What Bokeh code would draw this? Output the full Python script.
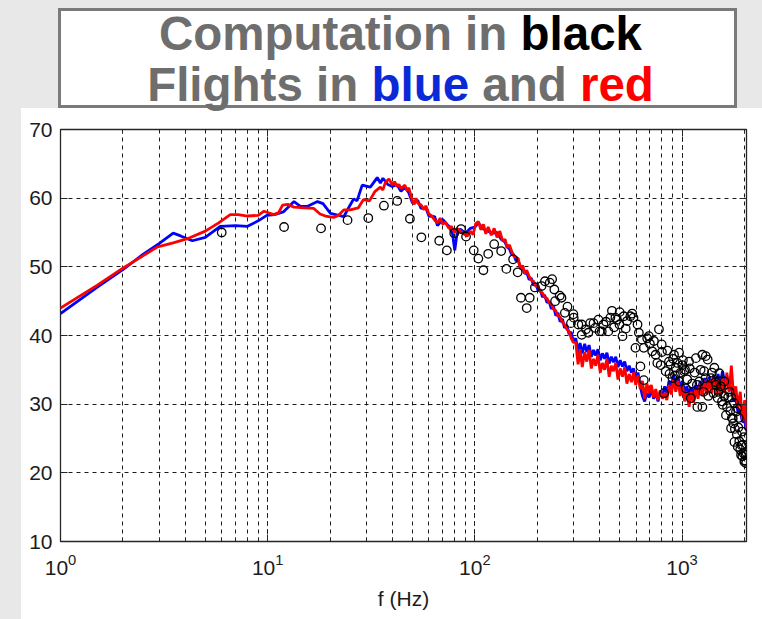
from bokeh.plotting import figure
from bokeh.models import (Range1d, LogAxis, LinearAxis, SingleIntervalTicker, LogTicker,
                          CustomJSTickFormatter, Div)
from bokeh.layouts import column, row
from bokeh.embed import file_html
from bokeh.resources import INLINE

# ---------------- data ----------------
red_f = [1, 1.5, 2, 2.5, 2.94, 3.5, 4.1, 5, 5.8, 6.6, 7.2, 8, 9, 9.6, 10.7, 11.3, 11.8, 12.5, 13.4, 15,
         16.7, 17.9, 19, 20.8, 22, 23.3, 25, 27.4, 29, 31, 33, 35, 36, 37, 38.5, 40, 41, 42, 43, 44,
         46, 47, 48, 50, 51, 52, 53, 55, 57, 58, 60, 62, 64, 66, 68, 70, 72, 75, 77, 80,
         82, 85, 88, 92, 95, 98, 101, 104, 107, 110, 113, 116, 120, 124, 128, 132, 136,
         140, 143, 147, 150, 154, 158, 162, 166, 170, 174, 178, 183, 187, 192, 197, 202, 207, 212, 217, 223,
         228, 234, 240, 246, 252, 258, 265, 271, 278, 285, 292, 299, 307, 315, 322, 330, 339, 347, 356, 365,
         374, 383, 393, 403, 413, 423, 434, 445, 456, 467, 479, 491, 503, 516, 529, 542, 556, 570, 584, 598,
         613, 629, 644, 660, 677, 694, 711, 729, 747, 766, 785, 805, 825, 845, 866, 888, 910, 933, 957, 981,
         1005, 1030, 1056, 1082, 1109, 1137, 1166, 1195, 1225, 1255, 1287, 1319, 1352, 1386, 1420, 1456,
         1492, 1530, 1568, 1607, 1647, 1689, 1731, 1774, 1818, 1864, 1910, 1958, 2007, 2048]
red_v = [44.0, 47.3, 49.8, 51.6, 52.9, 53.5, 54.1, 55.2, 56.4, 57.6, 57.6, 57.4, 57.5, 58.1, 57.6, 57.9, 59.0, 59.1, 58.7, 58.6,
         58.5, 57.7, 57.4, 57.2, 57.5, 58.3, 58.3, 58.6, 59.8, 59.6, 61.0, 61.6, 61.2, 62.3, 62.8, 61.9, 62.4, 61.7, 62.0, 61.4,
         61.9, 61.1, 61.5, 59.6, 59.1, 60.0, 59.3, 59.0, 58.3, 58.9, 57.7, 57.4, 56.8, 56.4, 57.1, 56.2, 56.5, 55.6, 55.9, 55.0,
         55.6, 55.3, 54.8, 54.5, 55.2, 54.7, 56.3, 56.6, 55.4, 56.2, 54.8, 55.8, 54.6, 55.6, 54.3, 55.2, 53.8,
         54.0, 52.8, 53.2, 52.4, 51.6, 51.4, 51.2, 49.7, 50.2, 49.0, 49.5, 48.6, 48.1, 47.9, 47.2, 47.1, 46.4, 46.2, 45.6, 45.4,
         44.8, 44.6, 43.8, 43.6, 42.8, 42.7, 41.9, 41.6, 40.9, 40.6, 39.6, 39.0, 39.0, 35.8, 38.0, 35.4, 37.6, 36.2, 37.9, 35.2,
         36.6, 35.6, 37.2, 34.6, 36.0, 35.0, 36.6, 34.0, 35.6, 34.8, 36.0, 33.6, 35.2, 34.0, 35.4, 33.0, 34.4, 33.2, 34.6, 32.8,
         34.2, 32.2, 33.4, 30.8, 33.0, 31.6, 32.8, 31.0, 32.2, 30.6, 32.0, 30.8, 31.6, 30.6, 32.8, 31.4, 33.6, 31.8, 33.4, 31.2,
         32.8, 30.4, 31.8, 29.6, 31.8, 30.2, 32.2, 30.8, 33.0, 31.2, 33.4, 31.4, 33.6, 31.6, 33.8, 31.4,
         33.6, 31.2, 34.0, 31.6, 34.6, 31.8, 35.6, 31.0, 32.6, 29.4, 31.8, 27.6, 30.6, 26.4]

blue_f = [1, 1.5, 2, 2.5, 3, 3.5, 3.8, 4.33, 5, 5.9, 7, 8, 9, 9.9, 10.8, 11.9, 13.4, 14.4, 15.5, 17.4,
          18.5, 20.1, 23.3, 24.6, 26, 27, 28.6, 31.3, 33.8, 35, 36, 38, 40, 42, 44, 46, 48, 50, 53, 55,
          58, 60, 64, 66, 70, 75, 78, 80, 82, 85, 90, 95, 100, 104, 110, 116, 122, 128, 134,
          140, 143, 147, 150, 154, 158, 162, 166, 170, 174, 178, 183, 187, 192, 197, 202, 207, 212, 217, 223,
          228, 234, 240, 246, 252, 258, 265, 271, 278, 285, 292, 299, 307, 315, 322, 330, 339, 347, 356, 365,
          374, 383, 393, 403, 413, 423, 434, 445, 456, 467, 479, 491, 503, 516, 529, 542, 556, 570, 584, 598,
          613, 629, 644, 660, 677, 694, 711, 729, 747, 766, 785, 805, 825, 845, 866, 888, 910, 933, 957, 981,
          1005, 1030, 1056, 1082, 1109, 1137, 1166, 1195, 1225, 1255, 1287, 1319, 1352, 1386, 1420, 1456,
          1492, 1530, 1568, 1607, 1647, 1689, 1731, 1774, 1818, 1864, 1910, 1958, 2007, 2048]
blue_v = [43.2, 47.0, 49.6, 51.8, 53.4, 54.9, 54.5, 53.8, 54.3, 55.9, 56.0, 55.9, 56.7, 57.5, 57.6, 58.0, 59.5, 58.8, 58.8, 59.5,
          59.2, 57.8, 57.3, 58.6, 59.9, 59.6, 61.9, 61.6, 63.0, 62.2, 62.9, 62.0, 61.7, 62.0, 61.0, 61.6, 60.8, 59.3, 59.7, 58.5,
          58.6, 57.4, 57.3, 56.0, 56.9, 55.9, 54.8, 52.4, 54.8, 55.5, 54.9, 55.6, 55.8, 56.4, 55.5, 55.2, 54.9, 55.0, 54.0,
          53.6, 52.9, 52.6, 51.9, 51.8, 50.9, 50.9, 49.9, 50.0, 49.0, 49.2, 48.1, 48.4, 47.3, 47.6, 46.5, 46.7, 45.6, 45.9, 44.8,
          45.0, 43.9, 44.2, 42.9, 43.3, 42.0, 42.4, 41.1, 41.5, 40.2, 40.5, 39.0, 39.6, 37.6, 38.9, 37.4, 38.8, 37.6, 38.6, 36.9,
          37.9, 37.1, 38.0, 36.4, 37.4, 36.6, 37.5, 35.9, 36.9, 36.1, 36.9, 35.4, 36.4, 35.5, 36.2, 34.8, 35.6, 34.6, 35.2, 33.6,
          34.6, 32.6, 31.2, 30.4, 31.6, 31.0, 32.2, 30.8, 31.6, 30.4, 31.8, 31.2, 32.6, 31.6, 33.4, 32.6, 34.2, 33.0, 34.0, 32.4,
          33.4, 31.8, 32.6, 31.0, 32.4, 31.4, 32.8, 31.8, 33.4, 32.2, 33.8, 32.4, 34.0, 32.6, 34.2, 32.6,
          34.4, 33.0, 34.8, 33.2, 34.0, 32.0, 32.6, 30.4, 30.8, 28.8, 29.0, 27.4, 27.6, 26.2]

comp_f = [6.0, 12.0, 18.1, 24.3, 30.6, 36.4, 42.2, 48.6, 55.2, 67.3, 73.3, 79.5, 85.8, 90.7, 98.8, 104, 110, 116,
          124, 134, 142, 153, 161, 167, 178, 184, 195, 218, 230, 242, 262, 244, 272, 299, 291, 316, 328, 353,
          374, 395, 418, 441, 459, 477, 499, 516, 543, 563, 583, 619, 654, 596, 692, 732, 774, 798, 630, 654,
          819, 865, 915, 968, 933, 1004, 968, 1043, 1103, 1186, 1254, 1211, 1303, 1330, 1279, 1379, 1460, 1486,
          1572, 1630, 1725, 1790, 1858, 1928, 2000, 2037, 1965, 1758, 1823, 1694, 1602, 1514, 1433, 1254, 1167,
          1082, 1024, 899, 834, 789, 746, 718, 679, 524, 486, 451, 410, 381, 344, 328,
          880, 905, 925, 950, 985, 1010, 1035, 1060, 1090, 1120, 1150, 1180, 1230, 1270, 1300, 1340, 1395,
          1420, 1450, 1500, 1540, 1560, 1600, 1650, 1670, 1710, 1740, 1770, 1800, 1840, 1870, 1890, 1910,
          1940, 1955, 1985, 2010, 2025, 2040, 1990, 1950, 1880, 1850, 1780, 1730, 760, 800, 850, 870, 700,
          640, 610, 575, 535, 500, 470, 430, 400, 360, 300, 280, 257, 236, 210]
comp_v = [55.0, 55.8, 55.6, 56.8, 57.1, 58.9, 59.6, 57.0, 54.3, 53.8, 52.4, 54.9, 55.5, 54.4, 52.4, 51.2, 49.5, 51.9,
          53.3, 52.3, 49.7, 51.1, 49.2, 45.5, 44.0, 45.5, 47.0, 47.9, 47.7, 46.7, 45.5, 45.0, 43.3, 43.1, 41.8, 41.6, 40.1, 40.4,
          41.8, 42.3, 41.6, 40.6, 43.6, 42.6, 41.6, 39.9, 42.1, 42.8, 42.6, 40.4, 38.2, 38.2, 39.9, 39.2, 40.9, 38.7, 35.5, 33.5,
          31.6, 36.2, 37.2, 37.5, 35.3, 35.7, 33.3, 32.3, 30.9, 29.6, 29.6, 33.3, 37.0, 36.5, 34.8, 33.8, 32.8, 30.9,
          29.9, 28.4, 26.5, 24.5, 23.8, 22.6, 21.6, 23.0, 24.1, 27.9, 28.9, 31.8, 33.3, 34.5, 35.3, 37.2, 36.7,
          36.2, 34.8, 33.8, 34.8, 35.7, 37.2, 37.7, 39.6, 42.8, 42.3, 42.6, 40.6, 41.1, 40.9, 41.6,
          35.8, 36.6, 34.2, 36.0, 34.6, 36.4, 35.0, 33.6, 35.2, 33.0, 34.6, 32.8, 35.0, 31.8, 33.8, 31.2, 34.6,
          31.6, 33.2, 31.8, 32.6, 30.4, 31.2, 29.6, 31.0, 29.0, 28.0, 27.2, 26.4, 25.6, 26.6, 24.6, 23.4,
          24.0, 22.4, 22.8, 21.8, 22.6, 21.4, 25.2, 26.0, 28.0, 29.4, 30.2, 31.0, 36.0, 37.6, 37.8, 34.4, 38.8,
          39.4, 41.6, 43.2, 41.0, 43.4, 41.2, 42.0, 40.6, 41.8, 42.6, 44.2, 45.8, 48.2, 47.2]

x_limits = (1, 2048)
y_limits = (10, 70)
x_label = "f (Hz)"
title_lines = [
    [("Computation in ", "#6e6e6e"), ("black", "#000000")],
    [("Flights in ", "#6e6e6e"), ("blue", "#0a2ad8"), (" and ", "#6e6e6e"), ("red", "#ff0000")],
]

FONT = "Liberation Sans"
GREY = "#e8e8e8"
TICK_PX = "21px"

# ---------------- title region (HTML) ----------------
lines_html = "<br>".join(
    "".join(f'<span style="color:{c}">{s.replace(" ", "&nbsp;")}</span>' for s, c in ln)
    for ln in title_lines)
title_html = (
    f'<div style="position:relative;width:762px;height:114px;background:white;overflow:hidden;">'
    f'<div style="position:absolute;left:0;top:0;width:762px;height:108px;background:{GREY};"></div>'
    f'<div style="position:absolute;left:0;top:108px;width:21px;height:6px;background:{GREY};"></div>'
    f'<div style="position:absolute;left:58px;top:8px;width:679px;height:100px;'
    f'border:3px solid #7a7a7a;background:white;"></div>'
    f'<div style="position:absolute;left:58px;top:7.5px;width:685px;text-align:center;'
    f"font-family:'{FONT}',Arial,sans-serif;font-weight:bold;font-size:47.5px;line-height:51.5px;"
    f'white-space:nowrap;">{lines_html}</div>'
    f'</div>')
title_div = Div(text=title_html, width=762, height=114, margin=(0, 0, 0, 0))

left_strip = Div(text=f'<div style="width:21px;height:505px;background:{GREY};"></div>',
                 width=21, height=505, margin=(0, 0, 0, 0))

# ---------------- figure ----------------
p = figure(width=741, height=505, x_axis_type="log",
           x_range=Range1d(*x_limits), y_range=Range1d(*y_limits),
           output_backend="svg", toolbar_location=None,
           min_border_left=39, min_border_right=16, min_border_top=15, min_border_bottom=78,
           background_fill_color="white", border_fill_color="white",
           outline_line_color="#262626", outline_line_width=1.3, margin=(0, 0, 0, 0))

for g in (p.xgrid, p.ygrid):
    g.grid_line_color = "#1a1a1a"
    g.grid_line_dash = "4 4"
    g.grid_line_width = 1
p.xgrid.minor_grid_line_color = "#1a1a1a"
p.xgrid.minor_grid_line_dash = "4 4"
p.xgrid.minor_grid_line_width = 1

yt = SingleIntervalTicker(interval=10, num_minor_ticks=0)
p.yaxis.ticker = yt
p.ygrid.ticker = yt

def style_axis(ax):
    ax.axis_line_color = None
    ax.major_tick_in = 7
    ax.major_tick_out = 0
    ax.minor_tick_in = 4
    ax.minor_tick_out = 0
    ax.major_tick_line_color = "#262626"
    ax.minor_tick_line_color = "#262626"
    ax.major_label_text_font = FONT
    ax.major_label_text_font_size = TICK_PX
    ax.major_label_text_color = "#1c1c1c"

xa = p.xaxis[0]
style_axis(xa)
xa.major_label_standoff = 12
xa.axis_label = x_label
xa.axis_label_text_font = FONT
xa.axis_label_text_font_style = "normal"
xa.axis_label_text_font_size = TICK_PX
xa.axis_label_text_color = "#1c1c1c"
xa.axis_label_standoff = 9

ya = p.yaxis[0]
style_axis(ya)
ya.minor_tick_line_color = None
ya.major_label_standoff = 8

blank = CustomJSTickFormatter(code="return ''")
top_ax = LogAxis(ticker=LogTicker(), formatter=blank)
style_axis(top_ax)
top_ax.major_label_text_font_size = "1px"
top_ax.major_label_standoff = 0
p.add_layout(top_ax, "above")
right_ax = LinearAxis(ticker=yt, formatter=blank)
style_axis(right_ax)
right_ax.minor_tick_line_color = None
right_ax.major_label_text_font_size = "1px"
right_ax.major_label_standoff = 0
p.add_layout(right_ax, "right")

p.line(blue_f, blue_v, line_color="#0000ff", line_width=2.8)
p.line(red_f, red_v, line_color="#ff0000", line_width=2.8)
p.scatter(comp_f, comp_v, marker="circle", size=8.5, fill_color=None, line_color="black", line_width=1.3)

layout = column(title_div, row(left_strip, p, spacing=0), spacing=0)

open("out.html", "w").write(file_html(layout, INLINE))
